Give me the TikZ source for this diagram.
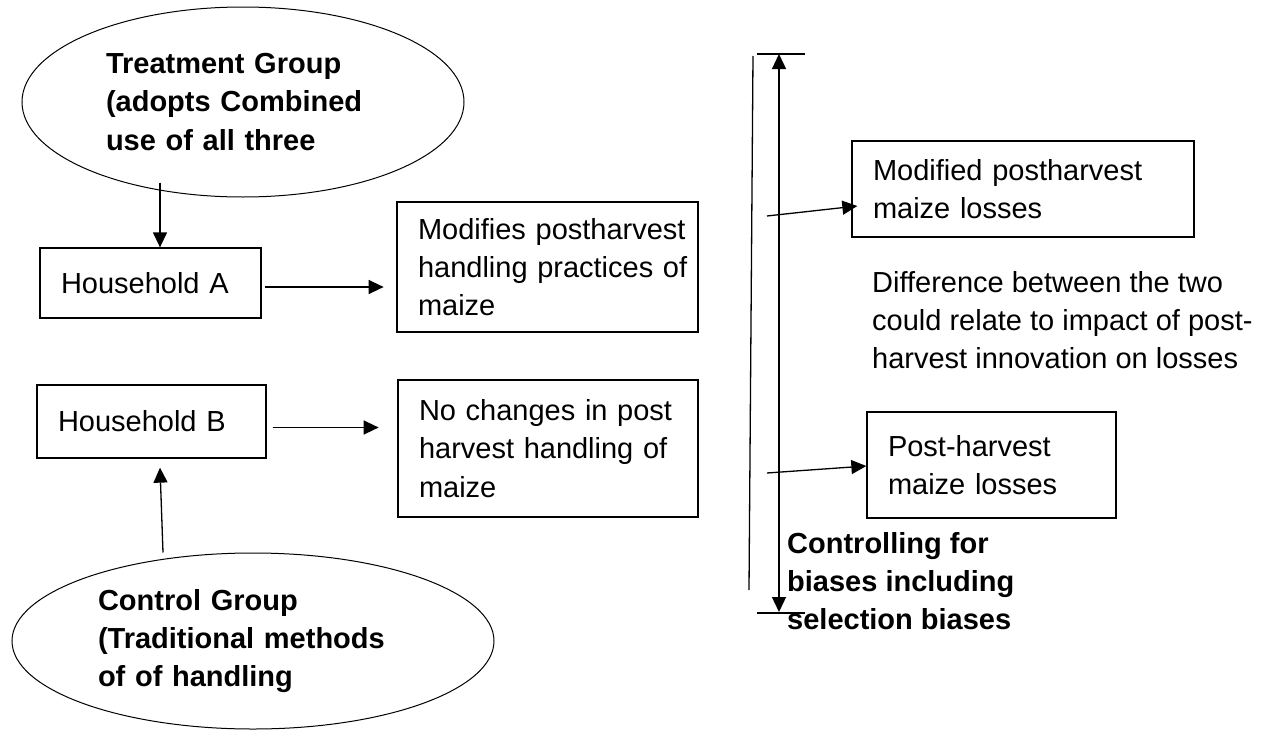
\documentclass[tikz,border=0pt]{standalone}
\usepackage{fontspec}
\setmainfont{Liberation Sans}
\usetikzlibrary{arrows.meta,shapes.geometric}
\newcommand{\txtfont}{\fontsize{29}{38.3}\selectfont}
\begin{document}
\begin{tikzpicture}[x=1pt,y=-1pt,
  box/.style={draw, line width=1.3pt, align=left, inner xsep=21pt, inner ysep=0pt, font=\txtfont},
  grp/.style={draw, ellipse, line width=1pt, align=left, inner sep=0pt, font=\txtfont\bfseries},
  plain/.style={align=left, inner sep=0pt, anchor=north west, font=\txtfont},
  arr/.style={line width=1.3pt, -{Triangle[length=15pt,width=14pt]}},
  rule/.style={line width=1.3pt}]
\useasboundingbox (0,0) rectangle (1267,731);

% ellipses
\node[grp, minimum width=442pt, minimum height=190pt, text width=274pt] (TG) at (243,102)
  {Treatment Group\\(adopts Combined\\use of all three};
\node[grp, minimum width=482pt, minimum height=176pt, text width=310pt] (CG) at (253,641)
  {Control Group\\(Traditional methods\\of of handling};

% boxes
\node[box, minimum width=221pt, minimum height=70pt, text width=179pt] (HA) at (150.5,283) {Household A};
\node[box, minimum width=229pt, minimum height=73pt, text width=187pt] (HB) at (151.5,421.5) {Household B};
\node[box, minimum width=301pt, minimum height=130pt, text width=259pt] (MP) at (547.5,267)
  {\mbox{Modifies postharvest}\\\mbox{handling practices of}\\maize};
\node[box, minimum width=300pt, minimum height=137pt, text width=258pt] (NC) at (548,448.5)
  {No changes in post\\harvest handling of\\maize};
\node[box, minimum width=342pt, minimum height=96pt, text width=300pt] (MPL) at (1023,189)
  {Modified postharvest\\maize losses};
\node[box, minimum width=249pt, minimum height=106pt, text width=207pt] (PHL) at (991.5,465)
  {Post-harvest\\maize losses};

% free texts
\node[plain] (DIFF) at (872,271)
  {Difference between the two\\could relate to impact of post-\\harvest innovation on losses};
\node[plain, font=\txtfont\bfseries] (CTRL) at (787,532)
  {Controlling for\\biases including\\selection biases};

% connectors
\coordinate (tgs) at ([shift={(-83,-15)}]TG.south);
\draw[arr] (tgs) -- (tgs |- HA.north);
\draw[arr] ([shift={(3,4)}]HA.east) -- ++(119,0);
\draw[arr] ([shift={(6,6)}]HB.east) -- ++(106,0);
\draw[arr] ([xshift=-90]CG.north) -- ([shift={(8.5,9)}]HB.south);

% vertical lines
\coordinate (L1) at (753,56);
\coordinate (L2) at (749,590);
\draw[rule] (L1) -- (L2);
\coordinate (Atop) at (779,54);
\coordinate (Abot) at (779,612);
\draw[rule, {Triangle[length=15pt,width=14pt]}-{Triangle[length=15pt,width=14pt]}] (Atop) -- (Abot);
\draw[rule] ([xshift=-22]Atop) -- ([xshift=26]Atop);
\draw[rule] ([shift={(-22,1)}]Abot) -- ([shift={(26,1)}]Abot);

\coordinate (s1) at (767,216);
\coordinate (s2) at (767,473);
\draw[arr] (s1) -- ([shift={(6,17)}]MPL.west);
\draw[arr] (s2) -- ([shift={(0,1)}]PHL.west);
\end{tikzpicture}
\end{document}
